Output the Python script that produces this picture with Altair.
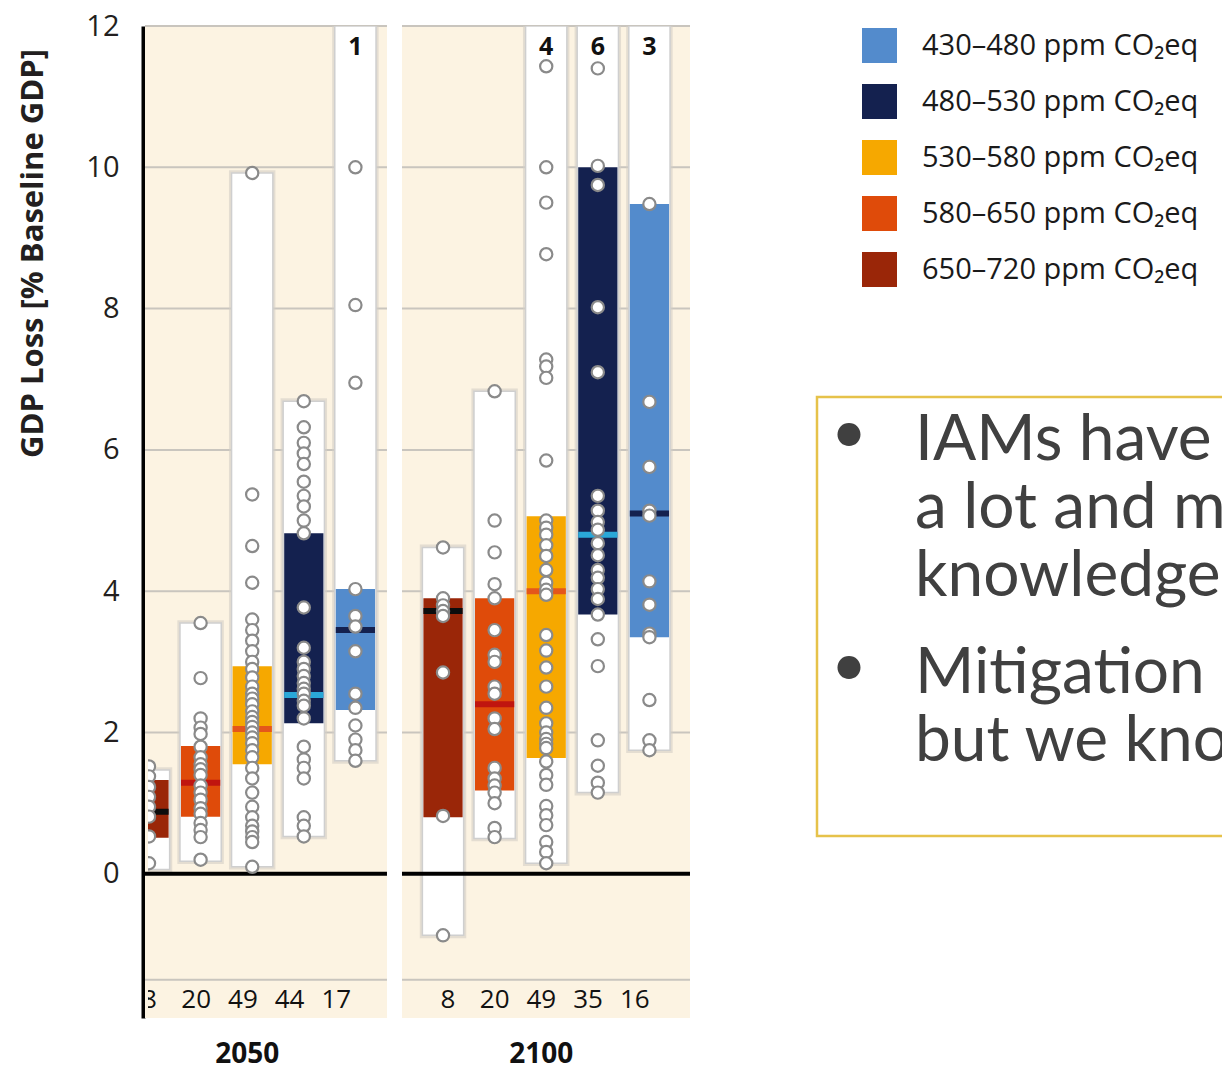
import altair as alt
import pandas as pd

# ---------------- data ----------------
periods = ["2050", "2100"]
# columns within each period, left to right
col_order = ["650–720", "580–650", "530–580", "480–530", "430–480"]
legend_order = ["430–480", "480–530", "530–580", "580–650", "650–720"]

n_2050 = [8, 20, 49, 44, 17]
n_2100 = [8, 20, 49, 35, 16]
# number of scenarios above the top of the axis
above_2050 = [0, 0, 0, 0, 1]
above_2100 = [0, 0, 4, 6, 3]

low_2050 = [0.06, 0.18, 0.10, 0.53, 1.60]
high_2050 = [1.47, 3.55, 9.92, 6.69, 12.0]
q1_2050 = [0.51, 0.81, 1.55, 2.13, 2.32]
q3_2050 = [1.33, 1.81, 2.94, 4.82, 4.03]
med_2050 = [0.88, 1.29, 2.05, 2.53, 3.45]

low_2100 = [-0.87, 0.50, 0.15, 1.15, 1.75]
high_2100 = [4.62, 6.83, 12.0, 12.0, 12.0]
q1_2100 = [0.80, 1.18, 1.64, 3.67, 3.35]
q3_2100 = [3.90, 3.90, 5.06, 10.0, 9.48]
med_2100 = [3.72, 2.40, 4.00, 4.80, 5.10]

pts_2050 = [
    [1.52, 1.38, 1.23, 1.09, 0.95, 0.81, 0.53, 0.15],
    [3.55, 2.77, 2.2, 2.07, 1.98, 1.8, 1.65, 1.55, 1.48, 1.4, 1.25, 1.15,
     1.05, 0.93, 0.85, 0.72, 0.62, 0.52, 0.2],
    [9.92, 5.37, 4.64, 4.12, 3.6, 3.45, 3.3, 3.15, 3.0, 2.9, 2.78, 2.65,
     2.55, 2.48, 2.4, 2.3, 2.22, 2.15, 2.08, 2.0, 1.93, 1.85, 1.75, 1.65,
     1.5, 1.35, 1.15, 0.95, 0.8, 0.68, 0.6, 0.52, 0.45, 0.1],
    [6.69, 6.32, 6.1, 5.95, 5.8, 5.55, 5.35, 5.2, 5.0, 4.82, 3.77, 3.2, 3.0,
     2.9, 2.8, 2.7, 2.62, 2.55, 2.45, 2.38, 2.2, 1.8, 1.62, 1.5, 1.35, 0.8,
     0.68, 0.53],
    [10.0, 8.05, 6.95, 4.03, 3.65, 3.5, 3.15, 2.55, 2.35, 2.1, 1.9, 1.75, 1.6],
]
pts_2100 = [
    [4.62, 3.9, 3.8, 3.72, 3.65, 2.85, 0.82, -0.87],
    [6.83, 5.0, 4.55, 4.1, 3.9, 3.45, 3.1, 3.0, 2.65, 2.55, 2.2, 2.05, 1.5,
     1.35, 1.25, 1.15, 1.0, 0.65, 0.52],
    [11.43, 10.0, 9.5, 8.77, 7.28, 7.18, 7.02, 5.85, 5.0, 4.9, 4.8, 4.65, 4.5,
     4.3, 4.12, 4.02, 3.95, 3.38, 3.16, 2.92, 2.65, 2.35, 2.13, 2.0, 1.91,
     1.84, 1.78, 1.59, 1.4, 1.26, 0.96, 0.83, 0.69, 0.45, 0.31, 0.15],
    [11.4, 10.02, 9.75, 8.02, 7.1, 5.35, 5.14, 4.98, 4.87, 4.68, 4.51, 4.3,
     4.19, 4.03, 3.89, 3.67, 3.32, 2.94, 1.89, 1.53, 1.29, 1.15],
    [9.48, 6.68, 5.76, 5.14, 5.07, 4.14, 3.81, 3.4, 3.35, 2.46, 1.89, 1.75],
]

y_ticks = [0, 2, 4, 6, 8, 10, 12]
grid_levels = [12, 10, 8, 6, 4, 2, -1.5]

bullet_1 = ["IAMs have", "a lot and m", "knowledge"]
bullet_2 = ["Mitigation", "but we kno"]

# ---------------- styling / layout ----------------
FILL = {"430–480": "#538bcc", "480–530": "#14214f", "530–580": "#f6a800",
        "580–650": "#df4b0a", "650–720": "#9a2608"}
MEDIAN = {"430–480": "#14214f", "480–530": "#2aa8d8", "530–580": "#e4561b",
          "580–650": "#c0150f", "650–720": "#0d0d0d"}
unit = lambda s: f"{s} ppm CO₂eq"

FONT = "Open Sans"
LEFT, TOP, W, H = 148, 26, 542, 992
Y_MIN, Y_MAX = -2.04, 12.0
X_MIN = -0.0194
X_MAX = X_MIN + W / 51.6

first_col = {"2050": 0.0, "2100": 5.698}
first_lab = {"2050": 0.01, "2100": 5.794}
panel_span = {"2050": (-0.0775, 4.612), "2100": (4.903, X_MAX)}

series = {
    "2050": (n_2050, above_2050, low_2050, high_2050, q1_2050, q3_2050, med_2050, pts_2050),
    "2100": (n_2100, above_2100, low_2100, high_2100, q1_2100, q3_2100, med_2100, pts_2100),
}

col_rows, pt_rows, cnt_rows = [], [], []
for p in periods:
    n, above, lo, hi, q1, q3, md, pts = series[p]
    for i, sc in enumerate(col_order):
        xc = first_col[p] + i
        col_rows.append(dict(
            period=p, scen=unit(sc), xc=xc,
            sx0=xc - 0.45, sx1=xc + 0.45, wx0=xc - 0.40, wx1=xc + 0.40,
            bx0=xc - 0.38, bx1=xc + 0.38,
            low=lo[i], high=hi[i], q1=q1[i], q3=q3[i], med=md[i],
            sl=lo[i] - 0.04, sh=min(hi[i] + 0.04, Y_MAX),
            mcol=MEDIAN[sc], above=str(above[i]) if above[i] else "",
        ))
        for v in pts[i]:
            pt_rows.append(dict(period=p, x=xc, y=v))
        cnt_rows.append(dict(x=first_lab[p] + i * 0.905, y=-1.78, n=str(n[i])))

cols = pd.DataFrame(col_rows)
points = pd.DataFrame(pt_rows)
counts = pd.DataFrame(cnt_rows)
panels = pd.DataFrame([dict(period=p, x0=panel_span[p][0], x1=panel_span[p][1],
                            y0=Y_MIN, y1=Y_MAX) for p in periods])
grid = pd.DataFrame([dict(x0=panel_span[p][0], x1=panel_span[p][1], y=g)
                     for p in periods for g in grid_levels])
zero = pd.DataFrame([dict(x0=panel_span[p][0], x1=panel_span[p][1], y=0)
                     for p in periods])
period_lab = pd.DataFrame([dict(x=first_col[p] + 2, label=p) for p in periods])
one_row = period_lab.head(1)

xs = alt.Scale(domain=[X_MIN, X_MAX], nice=False, zero=False)
ys = alt.Scale(domain=[Y_MIN, Y_MAX], nice=False, zero=False)
X = lambda f: alt.X(f"{f}:Q", scale=xs, axis=None)

yaxis = alt.Axis(
    values=y_ticks, format="d", grid=False, ticks=False, tickSize=0, offset=5,
    domainColor="#000000", domainWidth=4,
    labelFont=FONT, labelFontSize=29, labelColor="#231f20", labelPadding=24,
    title="GDP Loss [% Baseline GDP]", titleFont=FONT, titleFontSize=31,
    titleFontWeight="bold", titleColor="#231f20", titleAngle=-90,
    titleX=-110, titleY=227, titleAlign="center", titleBaseline="middle",
)

bg = alt.Chart(panels).mark_rect(color="#fcf3e2", clip=False).encode(
    x=X("x0"), x2="x1",
    y=alt.Y("y0:Q", scale=ys, axis=yaxis), y2="y1")

gridlines = alt.Chart(grid).mark_rule(color="#c9c5be", strokeWidth=2, clip=False).encode(
    x=X("x0"), x2="x1", y=alt.Y("y:Q", scale=ys))

shadow = alt.Chart(cols).mark_rect(color="#d4cfc6", opacity=0.6, clip=True).encode(
    x=X("sx0"), x2="sx1", y=alt.Y("sl:Q", scale=ys), y2="sh")

white = alt.Chart(cols).mark_rect(color="#ffffff", stroke="#cfcfcf", strokeWidth=1.5,
                                  clip=True).encode(
    x=X("wx0"), x2="wx1", y=alt.Y("low:Q", scale=ys), y2="high")

iqr = alt.Chart(cols).mark_rect(clip=True).encode(
    x=X("bx0"), x2="bx1", y=alt.Y("q1:Q", scale=ys), y2="q3",
    color=alt.Color(
        "scen:N",
        scale=alt.Scale(domain=[unit(s) for s in legend_order],
                        range=[FILL[s] for s in legend_order]),
        legend=alt.Legend(
            title=None, orient="none", legendX=862 - LEFT, legendY=28 - TOP,
            symbolType="square", symbolSize=1225, symbolStrokeWidth=0,
            symbolOpacity=1, labelFont=FONT, labelFontSize=29,
            labelColor="#1a1a1a", labelOffset=25, rowPadding=21, padding=0,
            labelLimit=0,
        ),
    ),
)

medians = alt.Chart(cols).mark_rule(strokeWidth=6, clip=True).encode(
    x=X("bx0"), x2="bx1", y=alt.Y("med:Q", scale=ys),
    color=alt.Color("mcol:N", scale=None))

zeroline = alt.Chart(zero).mark_rule(color="#000000", strokeWidth=4, clip=False).encode(
    x=X("x0"), x2="x1", y=alt.Y("y:Q", scale=ys))

dots = alt.Chart(points).mark_point(
    shape="circle", filled=True, fill="#ffffff", stroke="#8a8a8a",
    strokeWidth=2.2, size=150, opacity=1, clip=True,
).encode(x=X("x"), y=alt.Y("y:Q", scale=ys))

count_text = alt.Chart(counts).mark_text(
    font=FONT, fontSize=26, color="#111111", baseline="middle", align="center",
    clip=True,
).encode(x=X("x"), y=alt.Y("y:Q", scale=ys), text="n:N")

above_text = alt.Chart(cols).transform_filter("datum.above != ''").mark_text(
    font=FONT, fontSize=25, fontWeight="bold", color="#111111",
    baseline="middle", align="center",
).encode(x=X("xc"), y=alt.datum(11.7, scale=ys), text="above:N")

period_text = alt.Chart(period_lab).mark_text(
    font=FONT, fontSize=28, fontWeight="bold", color="#111111",
    baseline="middle", align="center", dx=-5, clip=False,
).encode(x=X("x"), y=alt.value(1055 - TOP), text="label:N")

# text box beside the chart
box = alt.Chart(one_row).mark_rect(
    fill=None, stroke="#e6c24a", strokeWidth=2.5, clip=False,
).encode(x=alt.value(817 - LEFT), x2=alt.value(1400 - LEFT),
         y=alt.value(397 - TOP), y2=alt.value(836 - TOP))

LINE_GAP = 68

def bullet_block(lines, baseline_px):
    layers = []
    for k, line in enumerate(lines):
        layers.append(alt.Chart(one_row).mark_text(
            font="Lato", fontSize=64, color="#404040", align="left",
            baseline="alphabetic", clip=False,
        ).encode(x=alt.value(915 - LEFT),
                 y=alt.value(baseline_px + k * LINE_GAP - TOP),
                 text=alt.value(line)))
    layers.append(alt.Chart(one_row).mark_text(
        font="Lato", fontSize=62, color="#404040", align="center",
        baseline="alphabetic", dy=-7, clip=False,
    ).encode(x=alt.value(849 - LEFT), y=alt.value(baseline_px - TOP),
             text=alt.value("•")))
    return alt.layer(*layers)

chart = alt.layer(
    bg, gridlines, shadow, white, iqr, medians, zeroline, dots,
    count_text, above_text, period_text, box,
    bullet_block(bullet_1, 460), bullet_block(bullet_2, 693),
).properties(
    width=W, height=H,
    autosize=alt.AutoSizeParams(type="none"),
    padding={"left": LEFT, "top": TOP, "right": 1222 - LEFT - W,
             "bottom": 1070 - TOP - H},
    background="#ffffff",
).configure_view(stroke=None)

chart.save("out.html", embed_options={"renderer": "svg", "actions": False})
